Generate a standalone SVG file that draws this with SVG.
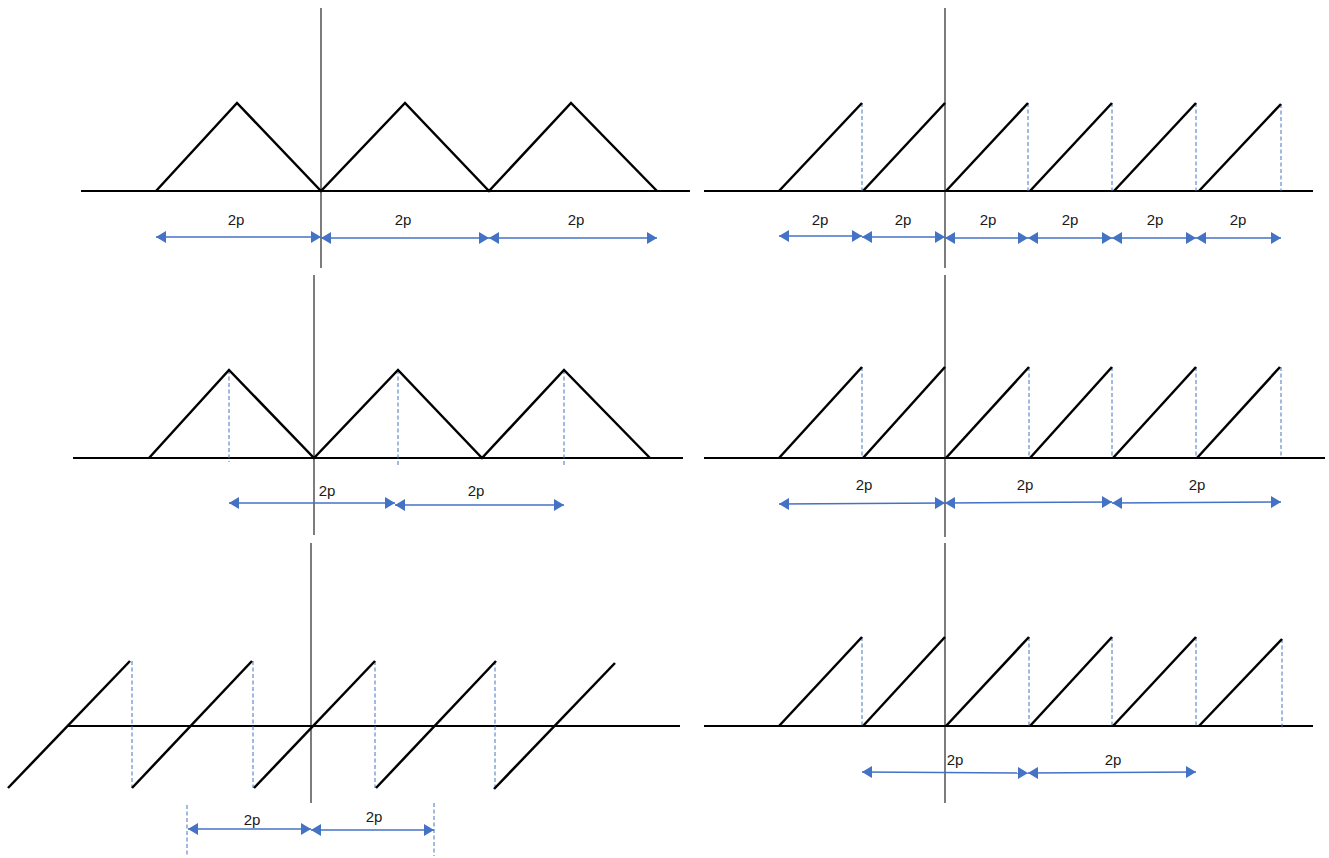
<svg xmlns="http://www.w3.org/2000/svg" width="1329" height="858" viewBox="0 0 1329 858">
<style>
.bg{fill:#ffffff}
.wave{fill:none;stroke:#000;stroke-width:2.5;stroke-linejoin:miter}
.base{fill:none;stroke:#000;stroke-width:2.2}
.axis{fill:none;stroke:#111;stroke-width:1.1}
.dash{fill:none;stroke:#4472C4;stroke-width:1;stroke-dasharray:4 2.5}
.arr{fill:none;stroke:#4472C4;stroke-width:1.4;marker-start:url(#ah);marker-end:url(#ah)}
.lbl{font-family:"Liberation Sans",Arial,sans-serif;font-size:15px;fill:#1a1a1a;text-anchor:middle}
</style>
<defs>
<marker id="ah" viewBox="0 0 10 12" refX="10" refY="6" markerWidth="10" markerHeight="12" markerUnits="userSpaceOnUse" orient="auto-start-reverse">
<path d="M0,0 L10,6 L0,12 Z" fill="#4472C4"/>
</marker>
</defs>
<rect class="bg" x="0" y="0" width="1329" height="858"/>

<g id="panel1">
<line class="base" x1="81" y1="191" x2="690" y2="191"/>
<line class="axis" x1="321" y1="8" x2="321" y2="268"/>
<polyline class="wave" points="156,191 237,103 321,191 405,103 489,191 571,103 657,191"/>
</g>

<g id="panel2">
<line class="base" x1="704" y1="191" x2="1313" y2="191"/>
<line class="axis" x1="945" y1="8" x2="945" y2="268"/>
<line class="dash" x1="862" y1="103" x2="862" y2="191"/>
<line class="dash" x1="1028" y1="103" x2="1028" y2="191"/>
<line class="dash" x1="1112" y1="103" x2="1112" y2="191"/>
<line class="dash" x1="1196" y1="103" x2="1196" y2="191"/>
<line class="dash" x1="1281" y1="104" x2="1281" y2="191"/>
<line class="wave" x1="779" y1="191" x2="862" y2="103"/>
<line class="wave" x1="863" y1="191" x2="945" y2="103"/>
<line class="wave" x1="946" y1="191" x2="1028" y2="103"/>
<line class="wave" x1="1030" y1="191" x2="1112" y2="103"/>
<line class="wave" x1="1114" y1="191" x2="1196" y2="103"/>
<line class="wave" x1="1199" y1="191" x2="1281" y2="104"/>
</g>

<g id="panel3">
<line class="base" x1="73" y1="458" x2="683" y2="458"/>
<line class="axis" x1="314" y1="275" x2="314" y2="535"/>
<line class="dash" x1="229" y1="370" x2="229" y2="462"/>
<line class="dash" x1="398" y1="370" x2="398" y2="465"/>
<line class="dash" x1="564" y1="370" x2="564" y2="465"/>
<polyline class="wave" points="149,458 229,370 314,458 398,370 482,458 564,370 650,458"/>
</g>

<g id="panel4">
<line class="base" x1="704" y1="458" x2="1325" y2="458"/>
<line class="axis" x1="945" y1="275" x2="945" y2="537"/>
<line class="dash" x1="862" y1="367" x2="862" y2="458"/>
<line class="dash" x1="1029" y1="367" x2="1029" y2="458"/>
<line class="dash" x1="1112" y1="367" x2="1112" y2="458"/>
<line class="dash" x1="1196" y1="367" x2="1196" y2="458"/>
<line class="dash" x1="1281" y1="367" x2="1281" y2="458"/>
<line class="wave" x1="779" y1="458" x2="862" y2="367"/>
<line class="wave" x1="863" y1="458" x2="945" y2="367"/>
<line class="wave" x1="946" y1="458" x2="1029" y2="367"/>
<line class="wave" x1="1030" y1="458" x2="1112" y2="367"/>
<line class="wave" x1="1113" y1="458" x2="1196" y2="367"/>
<line class="wave" x1="1197" y1="458" x2="1280" y2="367"/>
</g>

<g id="panel5">
<line class="base" x1="68" y1="726" x2="680" y2="726"/>
<line class="axis" x1="311" y1="543" x2="311" y2="803"/>
<line class="dash" x1="132" y1="661" x2="132" y2="788"/>
<line class="dash" x1="253" y1="661" x2="253" y2="788"/>
<line class="dash" x1="375" y1="661" x2="375" y2="788"/>
<line class="dash" x1="495" y1="661" x2="495" y2="788"/>
<line class="dash" x1="187" y1="805" x2="187" y2="856"/>
<line class="dash" x1="434" y1="803" x2="434" y2="856"/>
<line class="wave" x1="8" y1="788" x2="130" y2="661"/>
<line class="wave" x1="132" y1="788" x2="252" y2="661"/>
<line class="wave" x1="254" y1="788" x2="375" y2="661"/>
<line class="wave" x1="376" y1="788" x2="496" y2="661"/>
<line class="wave" x1="494" y1="789" x2="615" y2="663"/>
</g>

<g id="panel6">
<line class="base" x1="704" y1="726" x2="1313" y2="726"/>
<line class="axis" x1="945" y1="543" x2="945" y2="803"/>
<line class="dash" x1="862" y1="637" x2="862" y2="726"/>
<line class="dash" x1="1029" y1="637" x2="1029" y2="726"/>
<line class="dash" x1="1112" y1="637" x2="1112" y2="726"/>
<line class="dash" x1="1196" y1="637" x2="1196" y2="726"/>
<line class="dash" x1="1282" y1="639" x2="1282" y2="728"/>
<line class="wave" x1="779" y1="726" x2="862" y2="637"/>
<line class="wave" x1="863" y1="726" x2="945" y2="637"/>
<line class="wave" x1="946" y1="726" x2="1029" y2="637"/>
<line class="wave" x1="1030" y1="726" x2="1112" y2="637"/>
<line class="wave" x1="1113" y1="726" x2="1196" y2="637"/>
<line class="wave" x1="1199" y1="726" x2="1282" y2="639"/>
</g>

<g id="connectors">
<line class="arr" x1="156" y1="237" x2="321" y2="237"/>
<line class="arr" x1="321" y1="238" x2="489" y2="238"/>
<line class="arr" x1="489" y1="238" x2="657" y2="238"/>

<line class="arr" x1="779" y1="236" x2="862" y2="236"/>
<line class="arr" x1="862" y1="237" x2="945" y2="237"/>
<line class="arr" x1="945" y1="238" x2="1028" y2="238"/>
<line class="arr" x1="1028" y1="238" x2="1112" y2="238"/>
<line class="arr" x1="1112" y1="238" x2="1196" y2="238"/>
<line class="arr" x1="1196" y1="238" x2="1281" y2="238"/>

<line class="arr" x1="229" y1="503" x2="395" y2="503"/>
<line class="arr" x1="395" y1="505" x2="564" y2="505"/>

<line class="arr" x1="779" y1="504" x2="945" y2="503"/>
<line class="arr" x1="945" y1="503" x2="1112" y2="502"/>
<line class="arr" x1="1112" y1="503" x2="1281" y2="502"/>

<line class="arr" x1="188" y1="829" x2="311" y2="829"/>
<line class="arr" x1="311" y1="830" x2="434" y2="830"/>

<line class="arr" x1="862" y1="772" x2="1028" y2="773"/>
<line class="arr" x1="1028" y1="773" x2="1196" y2="772"/>
</g>

<g id="labels">
<text class="lbl" x="236" y="225">2p</text>
<text class="lbl" x="403" y="225">2p</text>
<text class="lbl" x="576" y="225">2p</text>
<text class="lbl" x="820" y="225">2p</text>
<text class="lbl" x="903" y="225">2p</text>
<text class="lbl" x="988" y="225">2p</text>
<text class="lbl" x="1070" y="225">2p</text>
<text class="lbl" x="1155" y="225">2p</text>
<text class="lbl" x="1238" y="225">2p</text>
<text class="lbl" x="327" y="496">2p</text>
<text class="lbl" x="476" y="496">2p</text>
<text class="lbl" x="864" y="490">2p</text>
<text class="lbl" x="1025" y="490">2p</text>
<text class="lbl" x="1197" y="490">2p</text>
<text class="lbl" x="252" y="825">2p</text>
<text class="lbl" x="374" y="822">2p</text>
<text class="lbl" x="955" y="765">2p</text>
<text class="lbl" x="1113" y="765">2p</text>
</g>
</svg>
